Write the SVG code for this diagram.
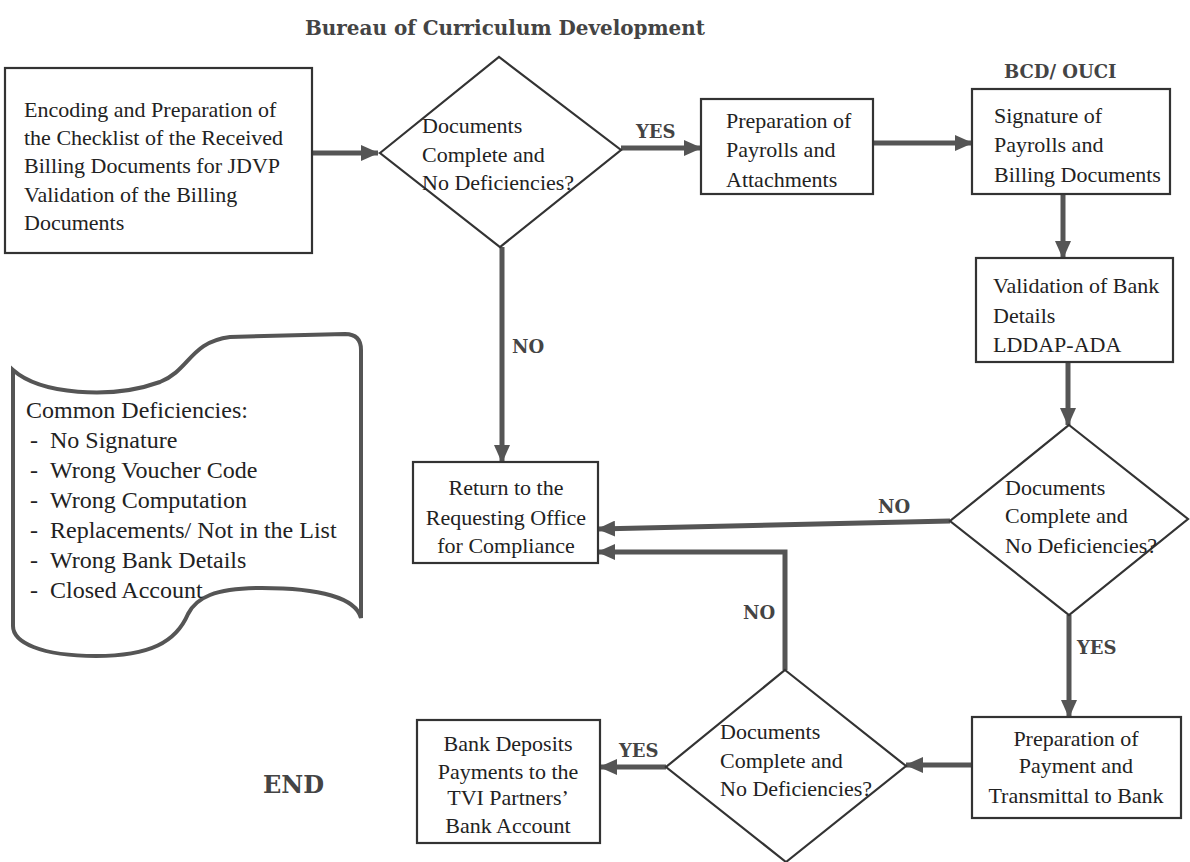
<svg xmlns="http://www.w3.org/2000/svg" width="1190" height="862" viewBox="0 0 1190 862">
<defs>
<marker id="ah" markerUnits="userSpaceOnUse" markerWidth="18" markerHeight="16" refX="17" refY="8" orient="auto">
<path d="M0,0 L18,8 L0,16 z" fill="#555"/>
</marker>
<style>
.box{fill:#fff;stroke:#333;stroke-width:2.2}
.dia{fill:#fff;stroke:#333;stroke-width:2.2}
.doc{fill:#fff;stroke:#555;stroke-width:4}
.t{font-family:"Liberation Serif","Times New Roman",serif;font-size:22px;fill:#222}
.c{text-anchor:middle}
.d{font-size:24px}
.lab{font-family:"DejaVu Serif",serif;font-weight:bold;font-size:18px;fill:#444}
.con{fill:none;stroke:#555;stroke-width:5;marker-end:url(#ah)}
</style>
</defs>
<rect width="1190" height="862" fill="#fff"/>
<text x="305" y="35" class="lab" style="font-size:20px" textLength="400" lengthAdjust="spacingAndGlyphs">Bureau of Curriculum Development</text>

<g id="connectors">
<line class="con" x1="312" y1="153" x2="378" y2="153"/>
<line class="con" x1="621" y1="148" x2="701" y2="148"/>
<line class="con" x1="873" y1="143" x2="972" y2="143"/>
<line class="con" x1="1063" y1="194" x2="1063" y2="258"/>
<line class="con" x1="1068" y1="362" x2="1068" y2="425"/>
<line class="con" x1="502" y1="247" x2="502" y2="462"/>
<line class="con" x1="950" y1="521" x2="598" y2="529"/>
<polyline class="con" points="785,670 785,552 598,552"/>
<line class="con" x1="1069" y1="615" x2="1069" y2="717"/>
<line class="con" x1="972" y1="765" x2="906" y2="765"/>
<line class="con" x1="666" y1="767" x2="600" y2="767"/>
<text x="636" y="138" class="lab">YES</text>
<text x="512" y="353" class="lab">NO</text>
<text x="878" y="513" class="lab">NO</text>
<text x="743" y="619" class="lab">NO</text>
<text x="1077" y="654" class="lab">YES</text>
<text x="619" y="757" class="lab">YES</text>
</g>

<g id="n1">
<rect class="box" x="5" y="68" width="307" height="185"/>
<text class="t" x="24" y="117">Encoding and Preparation of</text>
<text class="t" x="24" y="145">the Checklist of the Received</text>
<text class="t" x="24" y="173">Billing Documents for JDVP</text>
<text class="t" x="24" y="202">Validation of the Billing</text>
<text class="t" x="24" y="230">Documents</text>
</g>

<g id="d1">
<polygon class="dia" points="380,153 499,57 621,150 500,247"/>
<text class="t" x="422" y="133">Documents</text>
<text class="t" x="422" y="162">Complete and</text>
<text class="t" x="422" y="190">No Deficiencies?</text>
</g>

<g id="n2">
<rect class="box" x="701" y="99" width="172" height="95"/>
<text class="t" x="726" y="128">Preparation of</text>
<text class="t" x="726" y="157">Payrolls and</text>
<text class="t" x="726" y="187">Attachments</text>
</g>

<g id="n3">
<text x="1004" y="78" class="lab">BCD/ OUCI</text>
<rect class="box" x="972" y="89" width="198" height="105"/>
<text class="t" x="994" y="123">Signature of</text>
<text class="t" x="994" y="152">Payrolls and</text>
<text class="t" x="994" y="182">Billing Documents</text>
</g>

<g id="n4">
<rect class="box" x="976" y="258" width="197" height="104"/>
<text class="t" x="993" y="293">Validation of Bank</text>
<text class="t" x="993" y="323">Details</text>
<text class="t" x="993" y="352">LDDAP-ADA</text>
</g>

<g id="d2">
<polygon class="dia" points="1069,425 1188,519 1069,615 950,521"/>
<text class="t" x="1005" y="495">Documents</text>
<text class="t" x="1005" y="523">Complete and</text>
<text class="t" x="1005" y="553">No Deficiencies?</text>
</g>

<g id="n5">
<rect class="box" x="413" y="462" width="185" height="101"/>
<text class="t c" x="506" y="495">Return to the</text>
<text class="t c" x="506" y="525">Requesting Office</text>
<text class="t c" x="506" y="553">for Compliance</text>
</g>

<g id="n6">
<rect class="box" x="972" y="717" width="209" height="101"/>
<text class="t c" x="1076" y="746">Preparation of</text>
<text class="t c" x="1076" y="773">Payment and</text>
<text class="t c" x="1076" y="803">Transmittal to Bank</text>
</g>

<g id="d3">
<polygon class="dia" points="785,670 906,766 786,862 666,767"/>
<text class="t" x="720" y="739">Documents</text>
<text class="t" x="720" y="768">Complete and</text>
<text class="t" x="720" y="796">No Deficiencies?</text>
</g>

<g id="n7">
<rect class="box" x="417" y="720" width="183" height="123"/>
<text class="t c" x="508" y="751">Bank Deposits</text>
<text class="t c" x="508" y="779">Payments to the</text>
<text class="t c" x="508" y="805">TVI Partners’</text>
<text class="t c" x="508" y="833">Bank Account</text>
</g>

<g id="doc">
<path class="doc" d="M13,370 C40,394 110,400 160,382 C190,370 190,342 230,337 L345,334 Q361,334 361,350 L361,618 C356,598 320,588 262,588 C214,588 196,598 188,614 C176,642 150,656 96,656 C40,656 13,642 13,626 Z"/>
<text class="t d" x="26" y="418">Common Deficiencies:</text>
<text class="t d" x="30" y="448">-</text><text class="t d" x="50" y="448">No Signature</text>
<text class="t d" x="30" y="478">-</text><text class="t d" x="50" y="478">Wrong Voucher Code</text>
<text class="t d" x="30" y="508">-</text><text class="t d" x="50" y="508">Wrong Computation</text>
<text class="t d" x="30" y="538">-</text><text class="t d" x="50" y="538">Replacements/ Not in the List</text>
<text class="t d" x="30" y="568">-</text><text class="t d" x="50" y="568">Wrong Bank Details</text>
<text class="t d" x="30" y="598">-</text><text class="t d" x="50" y="598">Closed Account</text>
</g>

<g id="end">
<text x="263" y="793" class="lab" style="font-size:24px">END</text>
</g>
</svg>
